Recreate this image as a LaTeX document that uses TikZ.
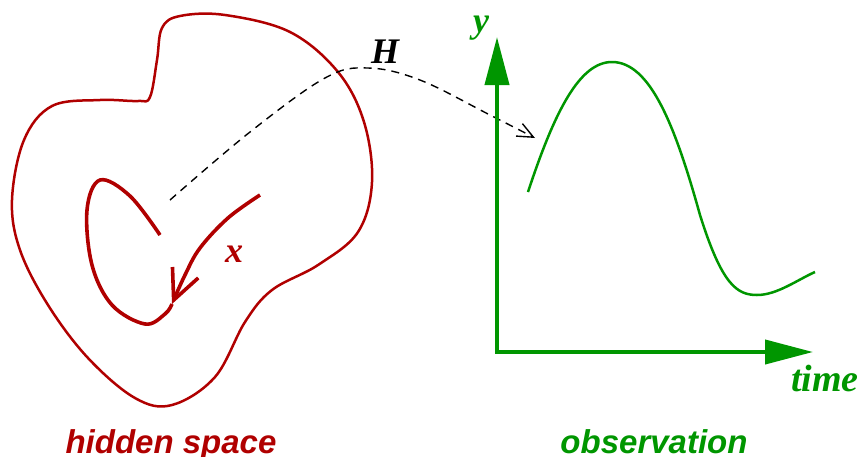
\documentclass[tikz,border=0pt]{standalone}
\usepackage{fontspec}
\setmainfont{Liberation Serif}
\newfontfamily\sansf{Liberation Sans}
\usetikzlibrary{arrows.meta}
\definecolor{hred}{RGB}{176,0,0}
\definecolor{ogreen}{RGB}{0,150,0}
\tikzset{
  blob/.style={draw=hred, line width=2.5pt},
  traj/.style={draw=hred, line width=3.6pt},
  axis/.style={draw=ogreen, line width=4pt},
  signal/.style={draw=ogreen, line width=2.5pt},
  mapping/.style={draw=black, line width=1.4pt, dashed, dash pattern=on 8pt off 6pt},
  lbl/.style={font=\fontsize{36}{40}\selectfont\bfseries\itshape, inner sep=0pt},
  caption/.style={font=\sansf\fontsize{33}{36}\selectfont\bfseries\itshape, inner sep=0pt, anchor=base}
}
\begin{document}
\begin{tikzpicture}[x=1pt,y=-1pt]
\useasboundingbox (0,0) rectangle (864,456);
% hidden space blob
\draw[blob] plot[smooth cycle, tension=0.6] coordinates {
 (150,97) (157,60) (162,28) (180,16) (225,15) (290,32) (338,72) (364,122) (372,182)
 (358,232) (318,265) (272,290) (245,322) (215,377) (172,405) (135,398) (88,358)
 (48,305) (20,250) (12,200) (24,140) (52,106) (100,100) (138,101)};
% trajectory
\draw[traj] plot[smooth, tension=0.6] coordinates {
 (160,235) (130,196) (100,180) (87,210) (92,265) (112,305) (145,324) (165,314) (172,304)};
\draw[traj, -{Straight Barb[length=30pt,width=28pt,line width=3.6pt]}] plot[smooth, tension=0.6] coordinates {
 (260,195) (228,218) (200,248) (185,275) (172,304)};
\node[lbl, text=hred] (x) at (234,254) {x};
% mapping H
\draw[mapping, -{Straight Barb[length=16pt,width=14pt,line width=1.4pt]}] plot[smooth, tension=0.6] coordinates {
 (170,200) (250,132) (325,78) (368,68) (420,80) (490,115) (535,138)};
\node[lbl] (H) at (385,52) {H};
% observation axes
\draw[axis, line join=miter, {Triangle[length=48pt,width=24pt]}-{Triangle[length=48pt,width=24pt]}] (497,37) -- (497,352) -- (813,352);
\node[lbl, text=ogreen] (y) at (481,28) {y};
\node[lbl, text=ogreen, font=\fontsize{38}{40}\selectfont\bfseries\itshape] (time) at (825,378) {time};
% signal
\coordinate (s0) at (528,192);
\coordinate (s1) at (612,62);
\coordinate (s2) at (700,215);
\coordinate (s3) at (757,295);
\coordinate (s4) at (815,272);
\draw[signal] (s0) .. controls (555,110) and (580,62) .. (s1)
  .. controls (650,62) and (675,125) .. (s2)
  .. controls (722,285) and (737,295) .. (s3)
  .. controls (777,295) and (797,280) .. (s4);
% captions
\node[caption, text=hred] (hs) at (171,453) {hidden space};
\node[caption, text=ogreen] (obs) at (654,453) {observation};
\end{tikzpicture}
\end{document}
